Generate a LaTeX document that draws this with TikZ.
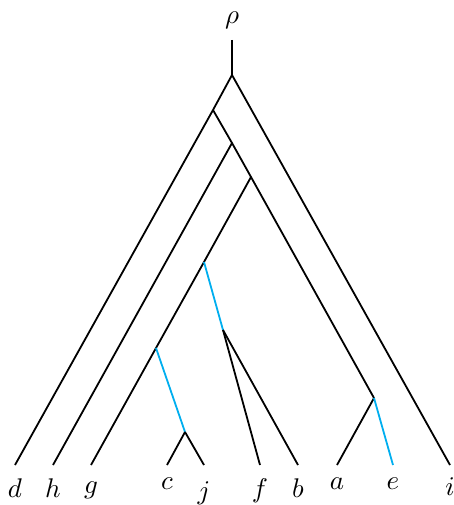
\documentclass[tikz,border=0pt]{standalone}
\usepackage{graphicx}
\usepackage{xcolor}
\definecolor{hgt}{RGB}{0,174,239}
\newcommand{\biglab}[1]{\scalebox{2.7}{$#1$}}
\begin{document}
\begin{tikzpicture}[x=1pt,y=-1pt,
  edge/.style={line width=1.8pt,black},
  hedge/.style={line width=1.8pt,hgt},
  lab/.style={anchor=north,inner sep=0pt}]
\useasboundingbox (0,0) rectangle (454,505);
% internal points
\coordinate (root) at (232,75);
\coordinate (n1) at (213,110);
\coordinate (n2) at (232,143);
\coordinate (n3) at (251,177);
\coordinate (n4) at (204,262);
\coordinate (n5) at (156,348);
\coordinate (n6) at (223,330);
\coordinate (n7) at (185,432);
\coordinate (n8) at (374,398);
% leaves
\coordinate (d) at (15,465);
\coordinate (h) at (53,465);
\coordinate (g) at (91,465);
\coordinate (c) at (167,465);
\coordinate (j) at (204,465);
\coordinate (f) at (260,465);
\coordinate (b) at (298,465);
\coordinate (a) at (337,465);
\coordinate (e) at (393,465);
\coordinate (i) at (450,465);
% labels
\node[anchor=south,inner sep=0pt] (rho) at (232,29) {\biglab{\rho}};
\node[lab] (ld) at (15,479) {\biglab{d}};
\node[lab] (lh) at (53,479) {\biglab{h}};
\node[lab] (lg) at (91,482) {\biglab{g}};
\node[lab] (lc) at (167,478) {\biglab{c}};
\node[lab] (lj) at (204,481) {\biglab{j}};
\node[lab] (lf) at (260,479) {\biglab{f}};
\node[lab] (lb) at (298,479) {\biglab{b}};
\node[lab] (la) at (337,478) {\biglab{a}};
\node[lab] (le) at (393,478) {\biglab{e}};
\node[lab] (li) at (450,477) {\biglab{i}};
% edges
\draw[edge] (rho.south |- 0,40) coordinate (top) -- (root);
\draw[edge] (root) -- (n1) -- (d);
\draw[edge] (root) -- (i);
\draw[edge] (n1) -- (n2) -- (n3) -- (n8);
\draw[edge] (n2) -- (h);
\draw[edge] (n3) -- (n4) -- (n5) -- (g);
\draw[hedge] (n4) -- (n6);
\draw[edge] (n6) -- (f);
\draw[edge] (n6) -- (b);
\draw[hedge] (n5) -- (n7);
\draw[edge] (n7) -- (c);
\draw[edge] (n7) -- (j);
\draw[edge] (n8) -- (a);
\draw[hedge] (n8) -- (e);
\end{tikzpicture}
\end{document}
